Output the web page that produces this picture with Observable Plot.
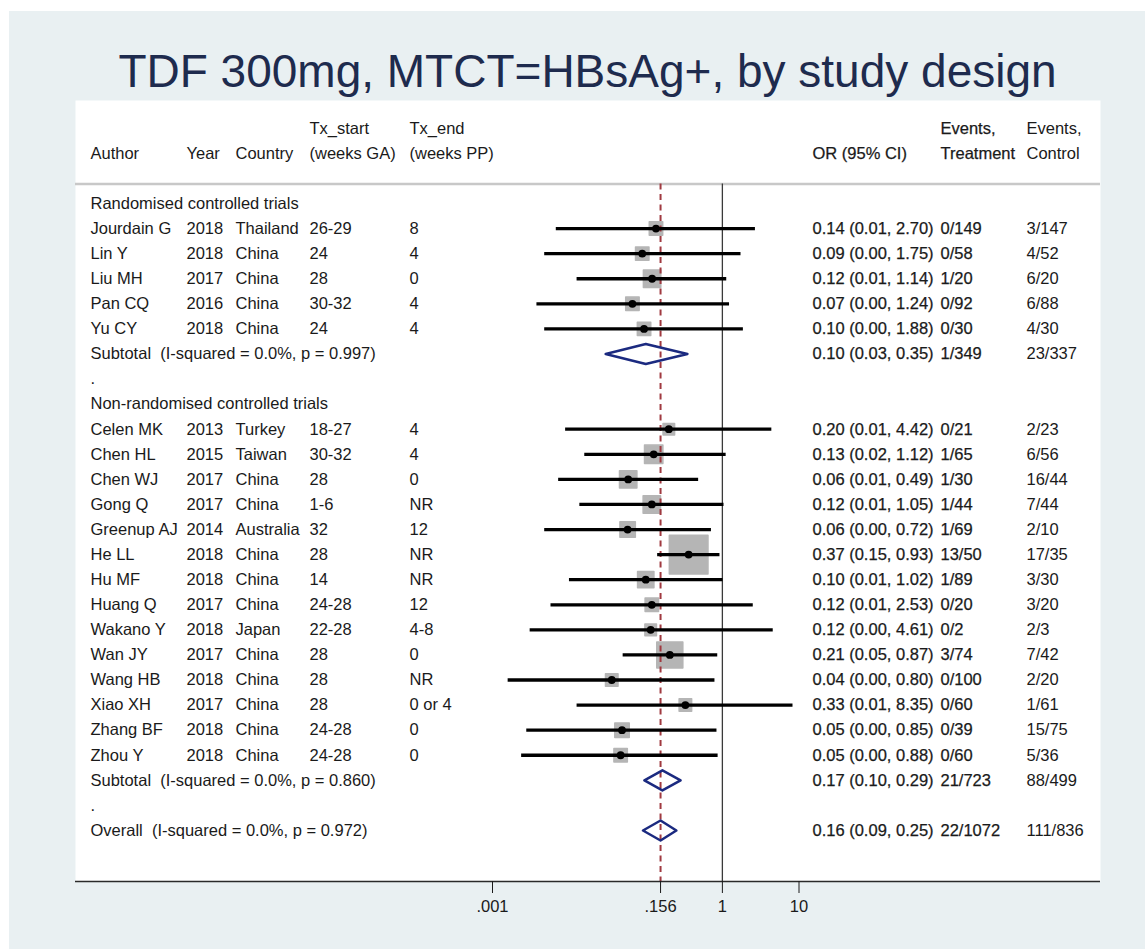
<!DOCTYPE html>
<html><head><meta charset="utf-8">
<script src="https://cdn.jsdelivr.net/npm/d3@7"></script>
<script src="https://cdn.jsdelivr.net/npm/@observablehq/plot@0.6"></script>
<style>
html,body{margin:0;padding:0;background:#fff;}
body{width:1145px;height:949px;position:relative;overflow:hidden;font-family:"Liberation Sans",Arial,Helvetica,sans-serif;}
#bg{position:absolute;left:9px;top:11px;right:0;bottom:0;background:#e9f0f2;}
#title{position:absolute;left:75px;width:1025px;top:48px;text-align:center;font-size:46px;line-height:46px;color:#1e2b4e;white-space:nowrap;}
#chart{position:absolute;left:75px;top:100px;}
</style></head><body>
<div id="bg"></div>
<div id="title">TDF 300mg, MTCT=HBsAg+, by study design</div>
<div id="chart"></div>
<script>
// ---------------- data ----------------
const groupNames = ["Randomised controlled trials", "Non-randomised controlled trials"];
const studyAuthor = ["Jourdain G","Lin Y","Liu MH","Pan CQ","Yu CY","Celen MK","Chen HL","Chen WJ","Gong Q","Greenup AJ","He LL","Hu MF","Huang Q","Wakano Y","Wan JY","Wang HB","Xiao XH","Zhang BF","Zhou Y"];
const studyGroup = [0,0,0,0,0,1,1,1,1,1,1,1,1,1,1,1,1,1,1];
const studyYear = ["2018","2018","2017","2016","2018","2013","2015","2017","2017","2014","2018","2018","2017","2018","2017","2018","2017","2018","2018"];
const studyCountry = ["Thailand","China","China","China","China","Turkey","Taiwan","China","China","Australia","China","China","China","Japan","China","China","China","China","China"];
const txStart = ["26-29","24","28","30-32","24","18-27","30-32","28","1-6","32","28","14","24-28","22-28","28","28","28","24-28","24-28"];
const txEnd = ["8","4","0","4","4","4","4","0","NR","12","NR","NR","12","4-8","0","NR","0 or 4","0","0"];
const orEst = [0.136,0.090,0.121,0.067,0.095,0.200,0.127,0.059,0.120,0.058,0.363,0.100,0.120,0.116,0.206,0.036,0.329,0.049,0.047];
const ciLow = [0.0068,0.0048,0.0127,0.0038,0.0048,0.0090,0.0160,0.0073,0.0138,0.0048,0.143,0.0101,0.0058,0.0031,0.0507,0.0016,0.0127,0.0028,0.0024];
const ciHigh = [2.70,1.75,1.14,1.24,1.88,4.42,1.12,0.49,1.05,0.72,0.93,1.02,2.53,4.61,0.87,0.80,8.35,0.85,0.88];
const studyWeight = [3.1,3.1,5.2,3.1,3.1,2.3,5.8,5.2,5.2,4.1,25.7,4.6,3.1,2.3,11.7,2.7,2.7,3.6,3.1];
const ciText = ["0.14 (0.01, 2.70)","0.09 (0.00, 1.75)","0.12 (0.01, 1.14)","0.07 (0.00, 1.24)","0.10 (0.00, 1.88)",
  "0.20 (0.01, 4.42)","0.13 (0.02, 1.12)","0.06 (0.01, 0.49)","0.12 (0.01, 1.05)","0.06 (0.00, 0.72)","0.37 (0.15, 0.93)",
  "0.10 (0.01, 1.02)","0.12 (0.01, 2.53)","0.12 (0.00, 4.61)","0.21 (0.05, 0.87)","0.04 (0.00, 0.80)","0.33 (0.01, 8.35)",
  "0.05 (0.00, 0.85)","0.05 (0.00, 0.88)"];
const eventsTreat = ["0/149","0/58","1/20","0/92","0/30","0/21","1/65","1/30","1/44","1/69","13/50","1/89","0/20","0/2","3/74","0/100","0/60","0/39","0/60"];
const eventsCtrl = ["3/147","4/52","6/20","6/88","4/30","2/23","6/56","16/44","7/44","2/10","17/35","3/30","3/20","2/3","7/42","2/20","1/61","15/75","5/36"];

const pooledLabel = ["Subtotal\u00a0 (I-squared = 0.0%, p = 0.997)","Subtotal\u00a0 (I-squared = 0.0%, p = 0.860)","Overall\u00a0 (I-squared = 0.0%, p = 0.972)"];
const pooledOr = [0.100, 0.165, 0.156];
const pooledLow = [0.030, 0.096, 0.092];
const pooledHigh = [0.350, 0.285, 0.251];
const pooledCiText = ["0.10 (0.03, 0.35)","0.17 (0.10, 0.29)","0.16 (0.09, 0.25)"];
const pooledTreat = ["1/349","21/723","22/1072"];
const pooledCtrl = ["23/337","88/499","111/836"];

const headerLine1 = ["","","","Tx_start","Tx_end","","Events,","Events,"];
const headerLine2 = ["Author","Year","Country","(weeks GA)","(weeks PP)","OR (95% CI)","Treatment","Control"];
const headerHeavy = [false,false,false,false,false,true,true,false];
const tickValues = [0.001, 0.156, 1, 10];
const tickLabels = [".001", ".156", "1", "10"];

// ---------------- layout ----------------
const W = 1025, H = 830;
const ROW_PX = 25.08, ROW0_Y = 103;   // svg y of row 0
const AXIS_Y = 781, SEP_Y = 83.5;
const axisRow = (AXIS_Y - ROW0_Y) / ROW_PX;
const sepRow = (SEP_Y - ROW0_Y) / ROW_PX;
const colX = [15, 111, 160, 234, 334, 737, 865, 951];
const FS = 16.5;
const TXT = "#1a1a1a";

const studies = studyAuthor.map((a, i) => ({
  author: a, group: studyGroup[i], year: studyYear[i], country: studyCountry[i],
  txs: txStart[i], txe: txEnd[i], or: orEst[i], lo: ciLow[i], hi: ciHigh[i],
  w: studyWeight[i], ci: ciText[i], treat: eventsTreat[i], ctrl: eventsCtrl[i]
}));
const labelRows = [], studyRows = [], pooledRows = [];
let r = 0;
groupNames.forEach((g, gi) => {
  labelRows.push({row: r, author: g}); r++;
  studies.filter(s => s.group === gi).forEach(s => { s.row = r; studyRows.push(s); r++; });
  pooledRows.push({row: r, idx: gi}); r++;
  labelRows.push({row: r, author: "."}); r++;
});
pooledRows.push({row: r, idx: 2});
pooledRows.forEach(p => {
  p.author = pooledLabel[p.idx]; p.or = pooledOr[p.idx]; p.lo = pooledLow[p.idx]; p.hi = pooledHigh[p.idx];
  p.ci = pooledCiText[p.idx]; p.treat = pooledTreat[p.idx]; p.ctrl = pooledCtrl[p.idx];
});
const tableRows = [...labelRows, ...studyRows, ...pooledRows];
const statRows = [...studyRows, ...pooledRows];
const HALF = 0.4;
const diamondPts = pooledRows.flatMap(p =>
  [[p.lo, p.row], [p.or, p.row - HALF], [p.hi, p.row], [p.or, p.row + HALF], [p.lo, p.row]]
    .map(([x, y]) => ({x, y, id: p.idx})));
const overallOr = pooledOr[2];

const semibold = {stroke: TXT, strokeWidth: 0.25};
const textCol = (data, field, dx, extra = {}) => Plot.text(data, {
  y: "row", text: field, frameAnchor: "left", dx, textAnchor: "start",
  fontSize: FS, fill: TXT, ...extra
});

const headerMarks = headerLine2.flatMap((t2, i) => {
  const rows = [];
  if (headerLine1[i]) rows.push({row: -3, t: headerLine1[i]});
  rows.push({row: -2, t: t2});
  return [textCol(rows, "t", colX[i], headerHeavy[i] ? semibold : {})];
});

const marks = [
  Plot.frame({fill: "white", stroke: "none"}),
  Plot.ruleY([sepRow], {stroke: "#c8c8c8", strokeWidth: 2.5}),
  Plot.ruleX([1], {y1: sepRow, y2: axisRow, stroke: "#3a3a3a", strokeWidth: 1.3}),
  Plot.dot(studyRows, {x: "or", y: "row", r: "w", symbol: "square", fill: "#b5b5b5", stroke: "#b5b5b5", strokeWidth: 1.5, strokeLinejoin: "round"}),
  Plot.ruleX([overallOr], {y1: sepRow, y2: axisRow, stroke: "#a03a40", strokeWidth: 2, strokeDasharray: "6,4.5"}),
  Plot.ruleY(studyRows, {y: "row", x1: "lo", x2: "hi", stroke: "black", strokeWidth: 3.3}),
  Plot.dot(studyRows, {x: "or", y: "row", r: 3.9, fill: "black"}),
  Plot.line(diamondPts, {x: "x", y: "y", z: "id", stroke: "#1b2a80", strokeWidth: 2.5, strokeLinejoin: "round"}),
  ...headerMarks,
  textCol(tableRows, "author", colX[0]),
  textCol(studyRows, "year", colX[1]),
  textCol(studyRows, "country", colX[2]),
  textCol(studyRows, "txs", colX[3]),
  textCol(studyRows, "txe", colX[4]),
  textCol(statRows, "ci", colX[5], semibold),
  textCol(statRows, "treat", colX[6], semibold),
  textCol(statRows, "ctrl", colX[7]),
  Plot.ruleY([axisRow], {stroke: "#2a2a2a", strokeWidth: 1.5}),
  Plot.axisX({ticks: tickValues, tickFormat: d => tickLabels[tickValues.indexOf(d)], tickSize: 12, tickPadding: 7, fontSize: FS, color: "#1a1a1a", label: null})
];

const chart = Plot.plot({
  width: W, height: H,
  marginTop: 0, marginLeft: 0, marginRight: 0, marginBottom: H - AXIS_Y,
  style: {background: "none", overflow: "visible", fontFamily: "'Liberation Sans', Arial, Helvetica, sans-serif", fontSize: FS + "px"},
  x: {type: "log", domain: [0.001, 10], range: [417, 723.5]},
  y: {type: "linear", domain: [-3, 25], range: [ROW0_Y - 3 * ROW_PX, ROW0_Y + 25 * ROW_PX], axis: null},
  r: {type: "sqrt", domain: [0, 25.7], range: [0, 21.8]},
  marks
});
document.getElementById("chart").appendChild(chart);
</script>
</body></html>
